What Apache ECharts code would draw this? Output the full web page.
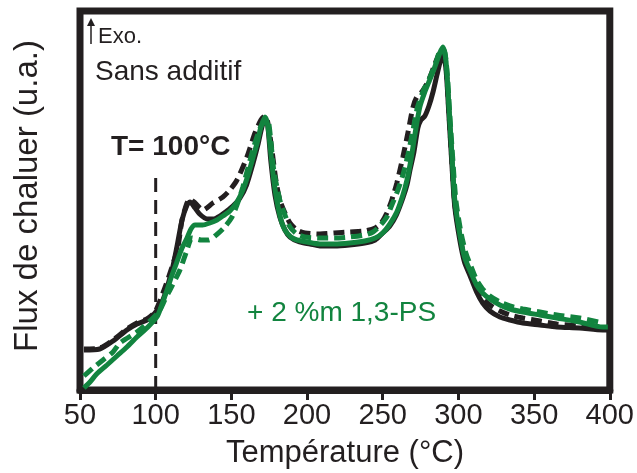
<!DOCTYPE html>
<html><head><meta charset="utf-8">
<script src="https://cdn.jsdelivr.net/npm/echarts@6/dist/echarts.min.js"></script>
<style>html,body{margin:0;padding:0;background:#fff}#c{width:637px;height:473px}</style>
</head><body><div id="c"></div>
<script>
const xTicks = [50,100,150,200,250,300,350,400];

const blackSolidT = [52.6,63,71.8,81,87.6,94.2,99.5,104.8,110.8,114,117.4,120.7,122.6,126,129,134,138,142.5,147,151,155.7,160,164,167.5,170,172.2,174,176,178.8,182,185.4,188.7,195,202,208.5,218,228,238,245,250,254.7,259,263.3,266,268,270.6,273.2,275.2,277.8,280.5,283.2,285.8,288.4,289.7,291.7,293.7,295.7,297.6,300.9,304,307.5,312,316,320.8,327.4,334,342.5,353.8,365,380,395.4,398.7];
const blackSolidV = [40,41,49,60,66,70,77,90,120,143,170,185,188,182,176,171,171,174,179,184,192,205,225,245,262,272,265,230,195,173,160,153,148,146,144,144,145,147,150,157,164,175,192,205,220,238,262,270,274,284,298,315,331,335,322,275,225,183,150,128,115,98,87,79,73,70,67,65,63,62,60,60];

const blackDashT = [52.6,63,71.8,81,87.6,94.2,99.5,104.8,110.8,114.7,117.4,120.7,122.6,126,131.2,137.8,144.4,149,153.7,160.3,165.6,169.5,172.2,174,176.8,179.4,182,185.4,188.7,193.3,198.6,208.5,218,228,238,245,249,252.7,256,259.3,263.3,266.6,270,272.5,275.8,279.8,283.7,287,289.7,291.7,293.7,295.7,297.6,301,304,307.5,312,316,320.8,327.4,334,342.5,353.8,365,380,395.4];
const blackDashV = [41,42,50,61,67,71,78,97,123,143,170,187,191,187,180,187,193,200,210,233,257,270,274,268,240,210,190,177,167,160,157,156,157,158,159,162,167,177,190,207,233,257,283,293,298,308,323,335,340,326,278,228,186,154,132,118,102,92,85,79,75,72,69,66,64,62];

const greenSolidT = [52.6,56.6,61,67.8,74.4,81,87.6,94.2,100.8,104,107.5,110.8,114,117.4,120.7,123.3,126,131,135.8,140.5,144.4,149,153.7,157.6,161,164.2,167,169.5,172.2,174,176,178,180,182.8,185.4,189.3,193.3,200,208.5,218,228,238,245,250,254.7,259.3,263.3,266,268.6,271.2,274.5,277.8,281,284.4,287.7,289.7,291.7,293.7,295.7,297.6,301,304,307.5,312,316,320.8,327.4,334,342.5,353.8,365,380,395.4,398.7];
const greenSolidV = [2,8,16,25,34,43,53,62,73,85,100,115,128,142,152,161,165,165,167,170,174,179,188,200,215,232,247,263,273,265,238,210,190,170,160,153,150,148,146,146,147,149,152,157,166,178,195,210,230,255,283,298,310,323,337,343,330,285,235,190,155,133,120,105,97,91,85,81,78,75,72,68,63,63];

const greenDashT = [52.6,58.6,65.2,71.8,76.4,87.6,98.2,102.8,106,109.4,116,120.7,124,127,130,135,140,145,150,153.7,157.6,164.2,169,172.2,174,176,178,182,185.4,188.7,193.3,198.6,208.5,218,228,238,243.5,248,252.7,256,259.3,263.3,266.6,270,273,277,281,285,288.4,290.4,292.4,294.3,296.3,298.3,301.6,304.9,308.2,312,316,320.8,327.4,334,342.5,353.8,365,380,395.4];
const greenDashV = [14,22,30,38,47,58,72,80,90,100,120,140,152,151,150,150,155,162,172,185,203,240,262,269,270,250,220,190,175,163,156,153,152,152,153,155,158,164,173,185,197,215,235,260,283,300,312,327,340,340,320,275,230,190,158,137,124,110,101,94,88,84,81,78,75,72,67];

const refLineT = [100,100];
const refLineV = [0,218];

const zip = (a,b) => a.map((v,i)=>[v,b[i]]);
const INK = '#231f20', GREEN = '#12843f';
const FONT = '"Liberation Sans", Arial, sans-serif';

const chart = echarts.init(document.getElementById('c'), null, {renderer:'canvas'});
chart.setOption({
  animation:false,
  grid:{left:80,right:27,top:11,bottom:83,show:true,borderColor:INK,borderWidth:7,backgroundColor:'transparent'},
  xAxis:{type:'value',min:50,max:400,interval:50,
    axisLine:{show:true,lineStyle:{color:INK,width:7}},
    axisTick:{show:true,length:10,lineStyle:{color:INK,width:3}},
    axisLabel:{color:INK,fontSize:29,fontFamily:FONT,margin:11,formatter:v=>xTicks.includes(v)?String(v):''},
    splitLine:{show:false}},
  yAxis:{type:'value',min:0,max:379,show:false,splitLine:{show:false}},
  series:[
    {type:'line',data:zip(blackSolidT,blackSolidV),smooth:0.25,showSymbol:false,lineStyle:{color:INK,width:5},z:2},
    {type:'line',data:zip(blackDashT,blackDashV),smooth:0.25,showSymbol:false,lineStyle:{color:INK,width:5,type:[11,6]},z:3},
    {type:'line',data:zip(greenSolidT,greenSolidV),smooth:0.25,showSymbol:false,lineStyle:{color:GREEN,width:5},z:4},
    {type:'line',data:zip(greenDashT,greenDashV),smooth:0.25,showSymbol:false,lineStyle:{color:GREEN,width:5,type:[11,6]},z:5},
    {type:'line',data:zip(refLineT,refLineV),showSymbol:false,lineStyle:{color:INK,width:3,type:[14,8]},z:1}
  ],
  graphic:[
    {type:'line',shape:{x1:91,y1:44,x2:91,y2:22},style:{stroke:INK,lineWidth:1.5},z:10},
    {type:'polygon',shape:{points:[[87,26],[91,18],[95,26]]},style:{fill:INK},z:10},
    {type:'text',x:98,y:37,style:{text:'Exo.',font:'22px '+FONT,fill:INK,align:'left',verticalAlign:'middle'},z:10},
    {type:'text',x:95,y:72,style:{text:'Sans additif',font:'28px '+FONT,fill:INK,align:'left',verticalAlign:'middle'},z:10},
    {type:'text',x:111,y:147,style:{text:'T= 100°C',font:'bold 28px '+FONT,fill:INK,align:'left',verticalAlign:'middle'},z:10},
    {type:'text',x:247,y:313,style:{text:'+ 2 %m 1,3-PS',font:'28px '+FONT,fill:GREEN,align:'left',verticalAlign:'middle'},z:10},
    {type:'text',x:345,y:453,style:{text:'Température (°C)',font:'31px '+FONT,fill:INK,align:'center',verticalAlign:'middle'},z:10},
    {type:'text',x:28,y:196,rotation:Math.PI/2,style:{text:'Flux de chaluer (u.a.)',font:'33px '+FONT,fill:INK,align:'center',verticalAlign:'middle'},z:10}
  ]
});
</script></body></html>
